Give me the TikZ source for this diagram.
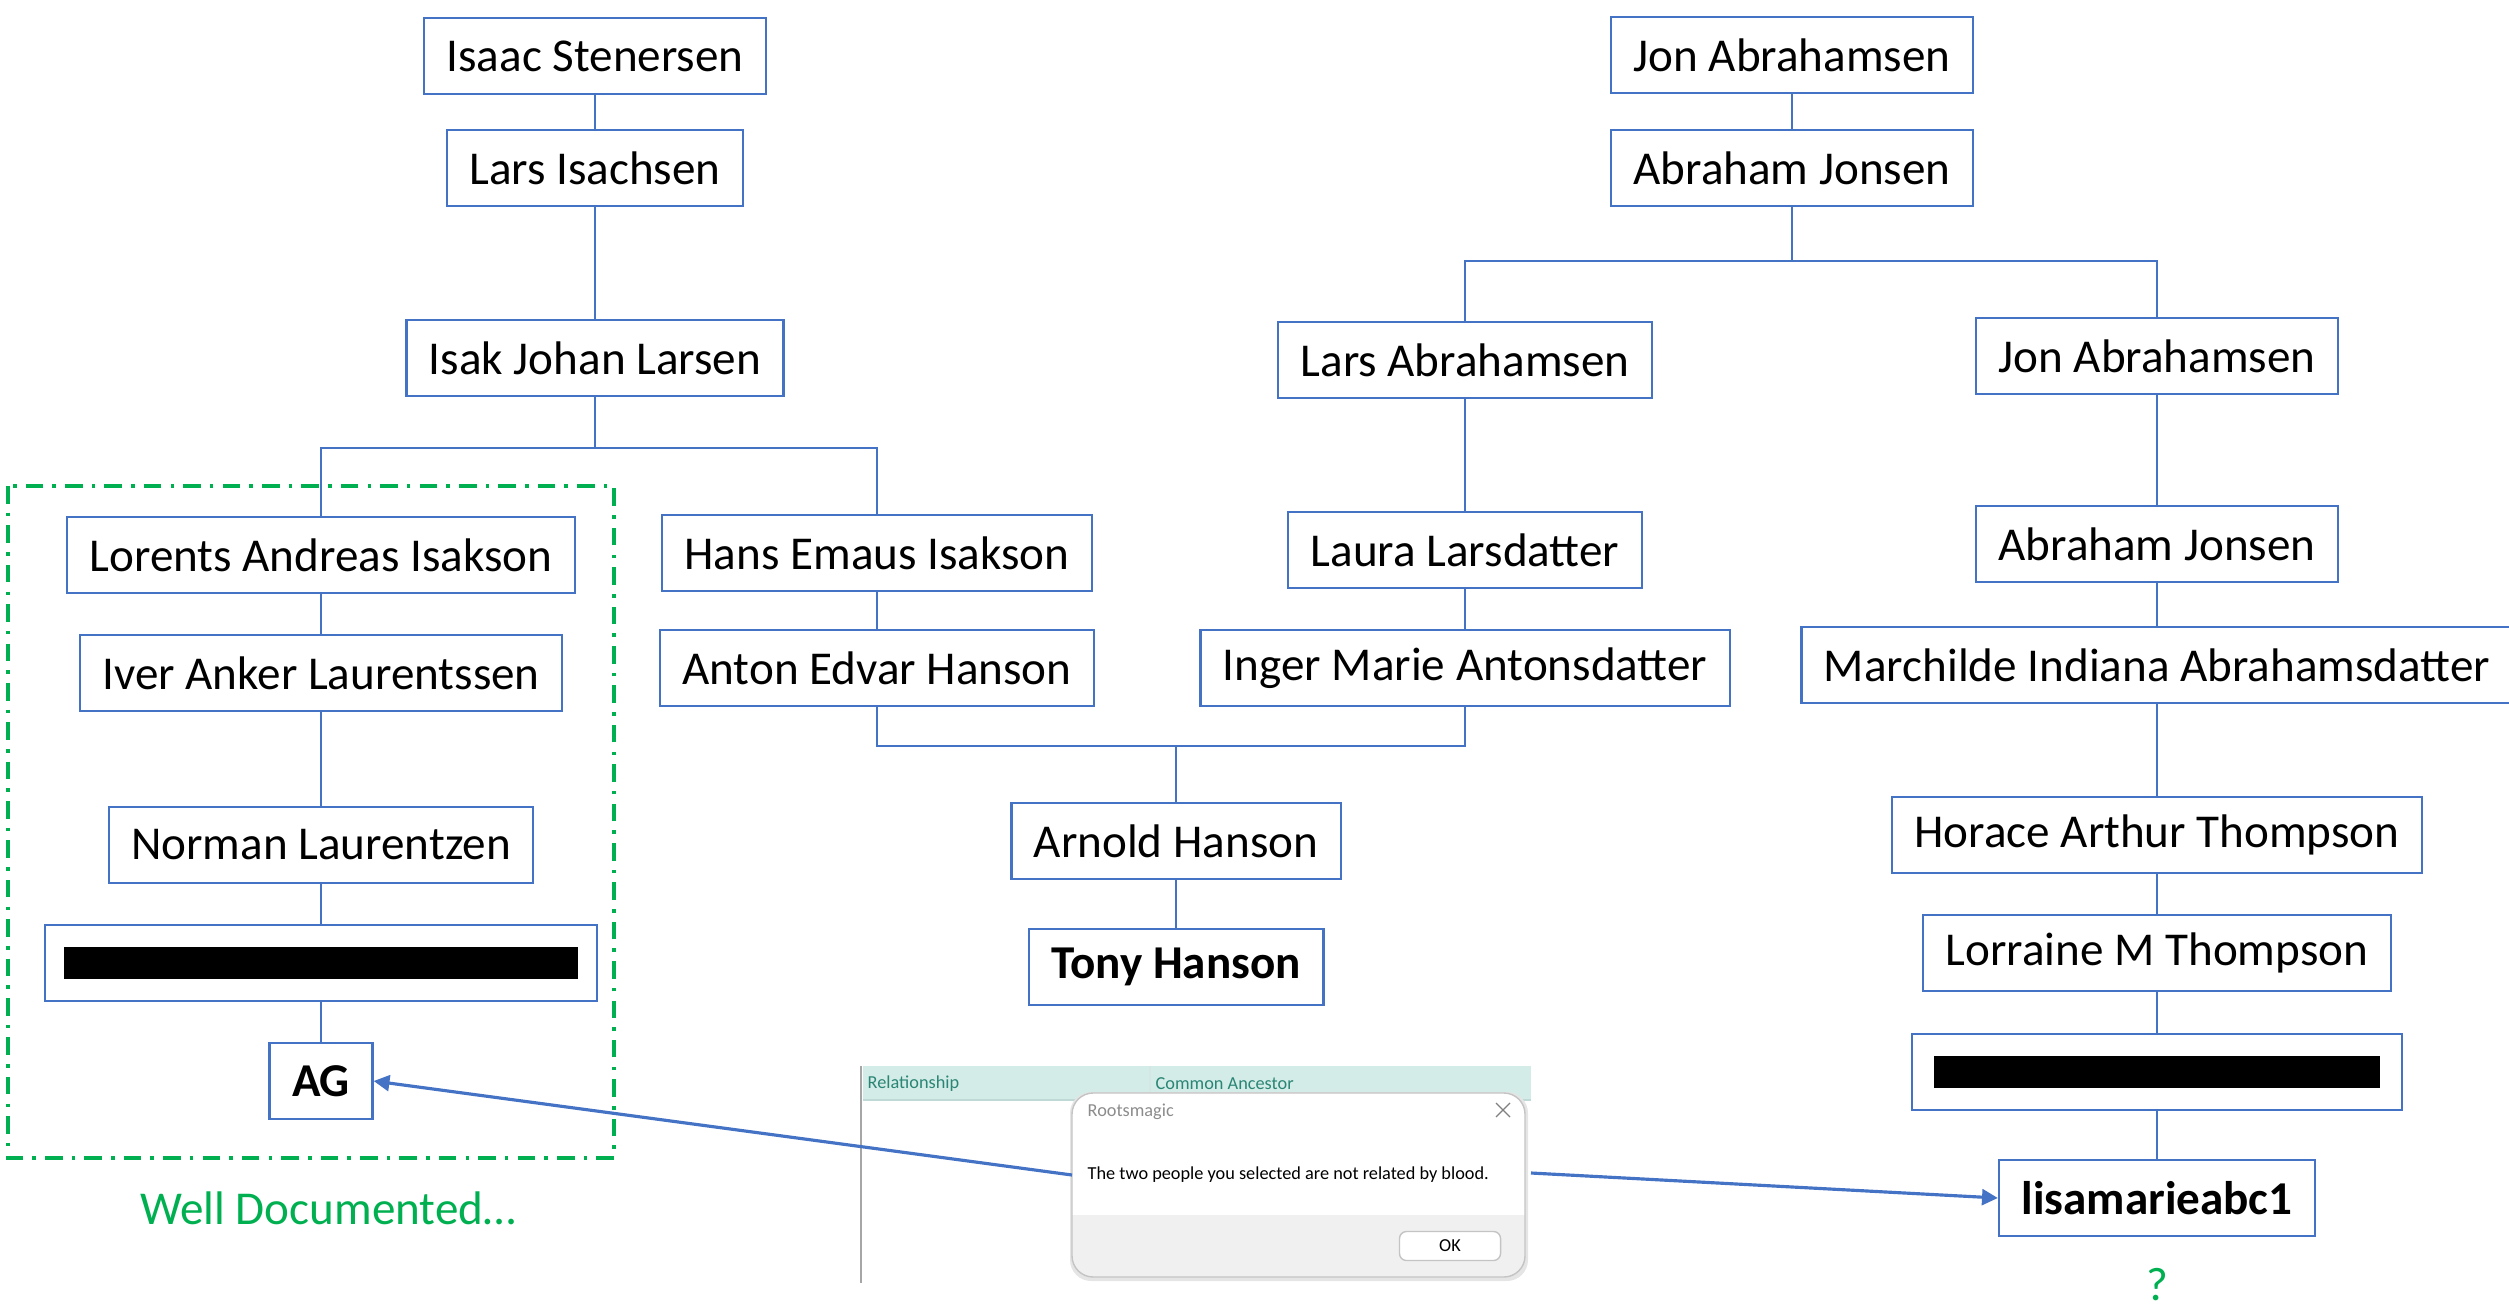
\documentclass[tikz,border=0pt]{standalone}
\usepackage{fontspec}
\setmainfont{Carlito}
\usetikzlibrary{arrows.meta}
\definecolor{Office}{HTML}{4472C4}
\definecolor{Leaf}{HTML}{00B050}
\definecolor{Teal}{HTML}{D3ECE7}
\definecolor{TealInk}{HTML}{2A8575}
\definecolor{Pane}{HTML}{F0F0F0}
\definecolor{Edge}{HTML}{C4C4C4}

\begin{document}
\begin{tikzpicture}[x=0.01cm,y=-0.01cm,
    person/.style={draw=Office,line width=0.65pt,fill=white,minimum height=0.76cm,inner xsep=6.4pt,font=\fontsize{13.4}{16}\selectfont},
    key/.style={person,font=\fontsize{13.4}{16}\selectfont\bfseries},
    hidden/.style={person,inner xsep=0pt},
    link/.style={draw=Office,line width=0.4pt},
    arr/.style={-{Triangle[length=4.5pt,width=4.5pt]},line width=0.9pt,draw=Office},
    note/.style={text=Leaf,font=\fontsize{13.4}{16}\selectfont},
    tiny/.style={font=\fontsize{5.2}{6.2}\selectfont,inner sep=0pt,anchor=west}
  ]
    \useasboundingbox (0,0) rectangle (2509,1312);
    \draw[Leaf,line width=1pt,dash pattern=on 5pt off 2.6pt on 1pt off 2.6pt] (8,486) rectangle (614,1158);

    \node[person] (isaac) at (595,56) {Isaac Stenersen};
    \node[person] (larsi) at (595,168) {Lars Isachsen};
    \node[person] (isak) at (595,358) {Isak Johan Larsen};
    \node[person] (lorents) at (321,555) {Lorents Andreas Isakson};
    \node[person] (iver) at (321,673) {Iver Anker Laurentssen};
    \node[person] (norman) at (321,845) {Norman Laurentzen};
    \node[hidden,minimum width=5.51cm] (kath) at (321,963) {\rule[-0.1cm]{5.14cm}{0.32cm}};
    \node[key] (ag) at (321,1081) {AG};
    \node[note] (welldoc) at (328,1208) {Well Documented…};
    \node[person] (hans) at (877,553) {Hans Emaus Isakson};
    \node[person] (anton) at (877,668) {Anton Edvar Hanson};

    \node[person] (jon) at (1792,55) {Jon Abrahamsen};
    \node[person] (abraham) at (1792,168) {Abraham Jonsen};
    \node[person] (larsa) at (1465,360) {Lars Abrahamsen};
    \node[person] (laura) at (1465,550) {Laura Larsdatter};
    \node[person] (inger) at (1465,668) {Inger Marie Antonsdatter};
    \node[person] (arnold) at (1176,841) {Arnold Hanson};
    \node[key] (tony) at (1176,967) {Tony Hanson};

    \node[person] (jonb) at (2157,356) {Jon Abrahamsen};
    \node[person] (abrahamb) at (2157,544) {Abraham Jonsen};
    \node[person] (marchilde) at (2157,665) {Marchilde Indiana Abrahamsdatter};
    \node[person] (horace) at (2157,835) {Horace Arthur Thompson};
    \node[person] (lorraine) at (2157,953) {Lorraine M Thompson};
    \node[hidden,minimum width=4.9cm] (sharon) at (2157,1072) {\rule[-0.1cm]{4.45cm}{0.32cm}};
    \node[key] (lisa) at (2157,1198) {lisamarieabc1};
    \node[note] (unsure) at (2157,1285) {?};

    \coordinate (forkl) at (595,448);
    \coordinate (forkr) at (1792,261);
    \coordinate (wed) at (1176,746);
    \draw[link] (isaac) -- (larsi); \draw[link] (larsi) -- (isak); \draw[link] (isak) -- (forkl);
    \draw[link] (forkl) -| (lorents); \draw[link] (forkl) -| (hans);
    \draw[link] (lorents) -- (iver); \draw[link] (iver) -- (norman); \draw[link] (norman) -- (kath); \draw[link] (kath) -- (ag);
    \draw[link] (hans) -- (anton);
    \draw[link] (jon) -- (abraham); \draw[link] (abraham) -- (forkr);
    \draw[link] (forkr) -| (larsa); \draw[link] (forkr) -| (jonb);
    \draw[link] (larsa) -- (laura); \draw[link] (laura) -- (inger);
    \draw[link] (anton) |- (wed); \draw[link] (wed) -| (inger); \draw[link] (wed) -- (arnold); \draw[link] (arnold) -- (tony);
    \draw[link] (jonb) -- (abrahamb); \draw[link] (abrahamb) -- (marchilde); \draw[link] (marchilde) -- (horace);
    \draw[link] (horace) -- (lorraine); \draw[link] (lorraine) -- (sharon); \draw[link] (sharon) -- (lisa);

    \fill[Teal] (863,1066) rectangle (1531,1100);
    \draw[TealInk!30,line width=0.3pt] (863,1100) -- (1531,1100);
    \draw[white!80!TealInk,line width=0.3pt] (1150,1066) -- (1150,1100);
    \draw[black!35,line width=0.7pt] (861,1066) -- (861,1283);
    \node[tiny,text=TealInk] (rel) at (867,1084) {Relationship};
    \node[tiny,text=TealInk] (anc) at (1155,1084) {Common Ancestor};
    \fill[black!10,rounded corners=6pt] (1070,1092) rectangle (1528,1281);
    \fill[white,rounded corners=6pt] (1072,1093) rectangle (1525,1277);
    \fill[Pane] (1072,1215) -- (1525,1215) {[rounded corners=6pt] -- (1525,1277) -- (1072,1277)} -- cycle;
    \draw[Edge,line width=0.4pt,rounded corners=6pt] (1072,1093) rectangle (1525,1277);
    \node[tiny,text=black!45] (title) at (1087,1112) {Rootsmagic};
    \draw[black!50,line width=0.35pt] (1496,1103) -- (1510,1117) (1496,1117) -- (1510,1103);
    \node[tiny] (msg) at (1087,1175) {The two people you selected are not related by blood.};
    \node[draw=Edge,fill=white,rounded corners=2pt,minimum width=1.01cm,minimum height=0.29cm,inner sep=0pt,font=\fontsize{5.2}{6.2}\selectfont] (ok) at (1450,1246) {OK};

    \coordinate (msgl) at (1072,1175);
    \coordinate (msgr) at (1531,1173);
    \draw[arr] (msgl) -- (ag.east);
    \draw[arr] (msgr) -- (lisa.west);
  \end{tikzpicture}
\end{document}
